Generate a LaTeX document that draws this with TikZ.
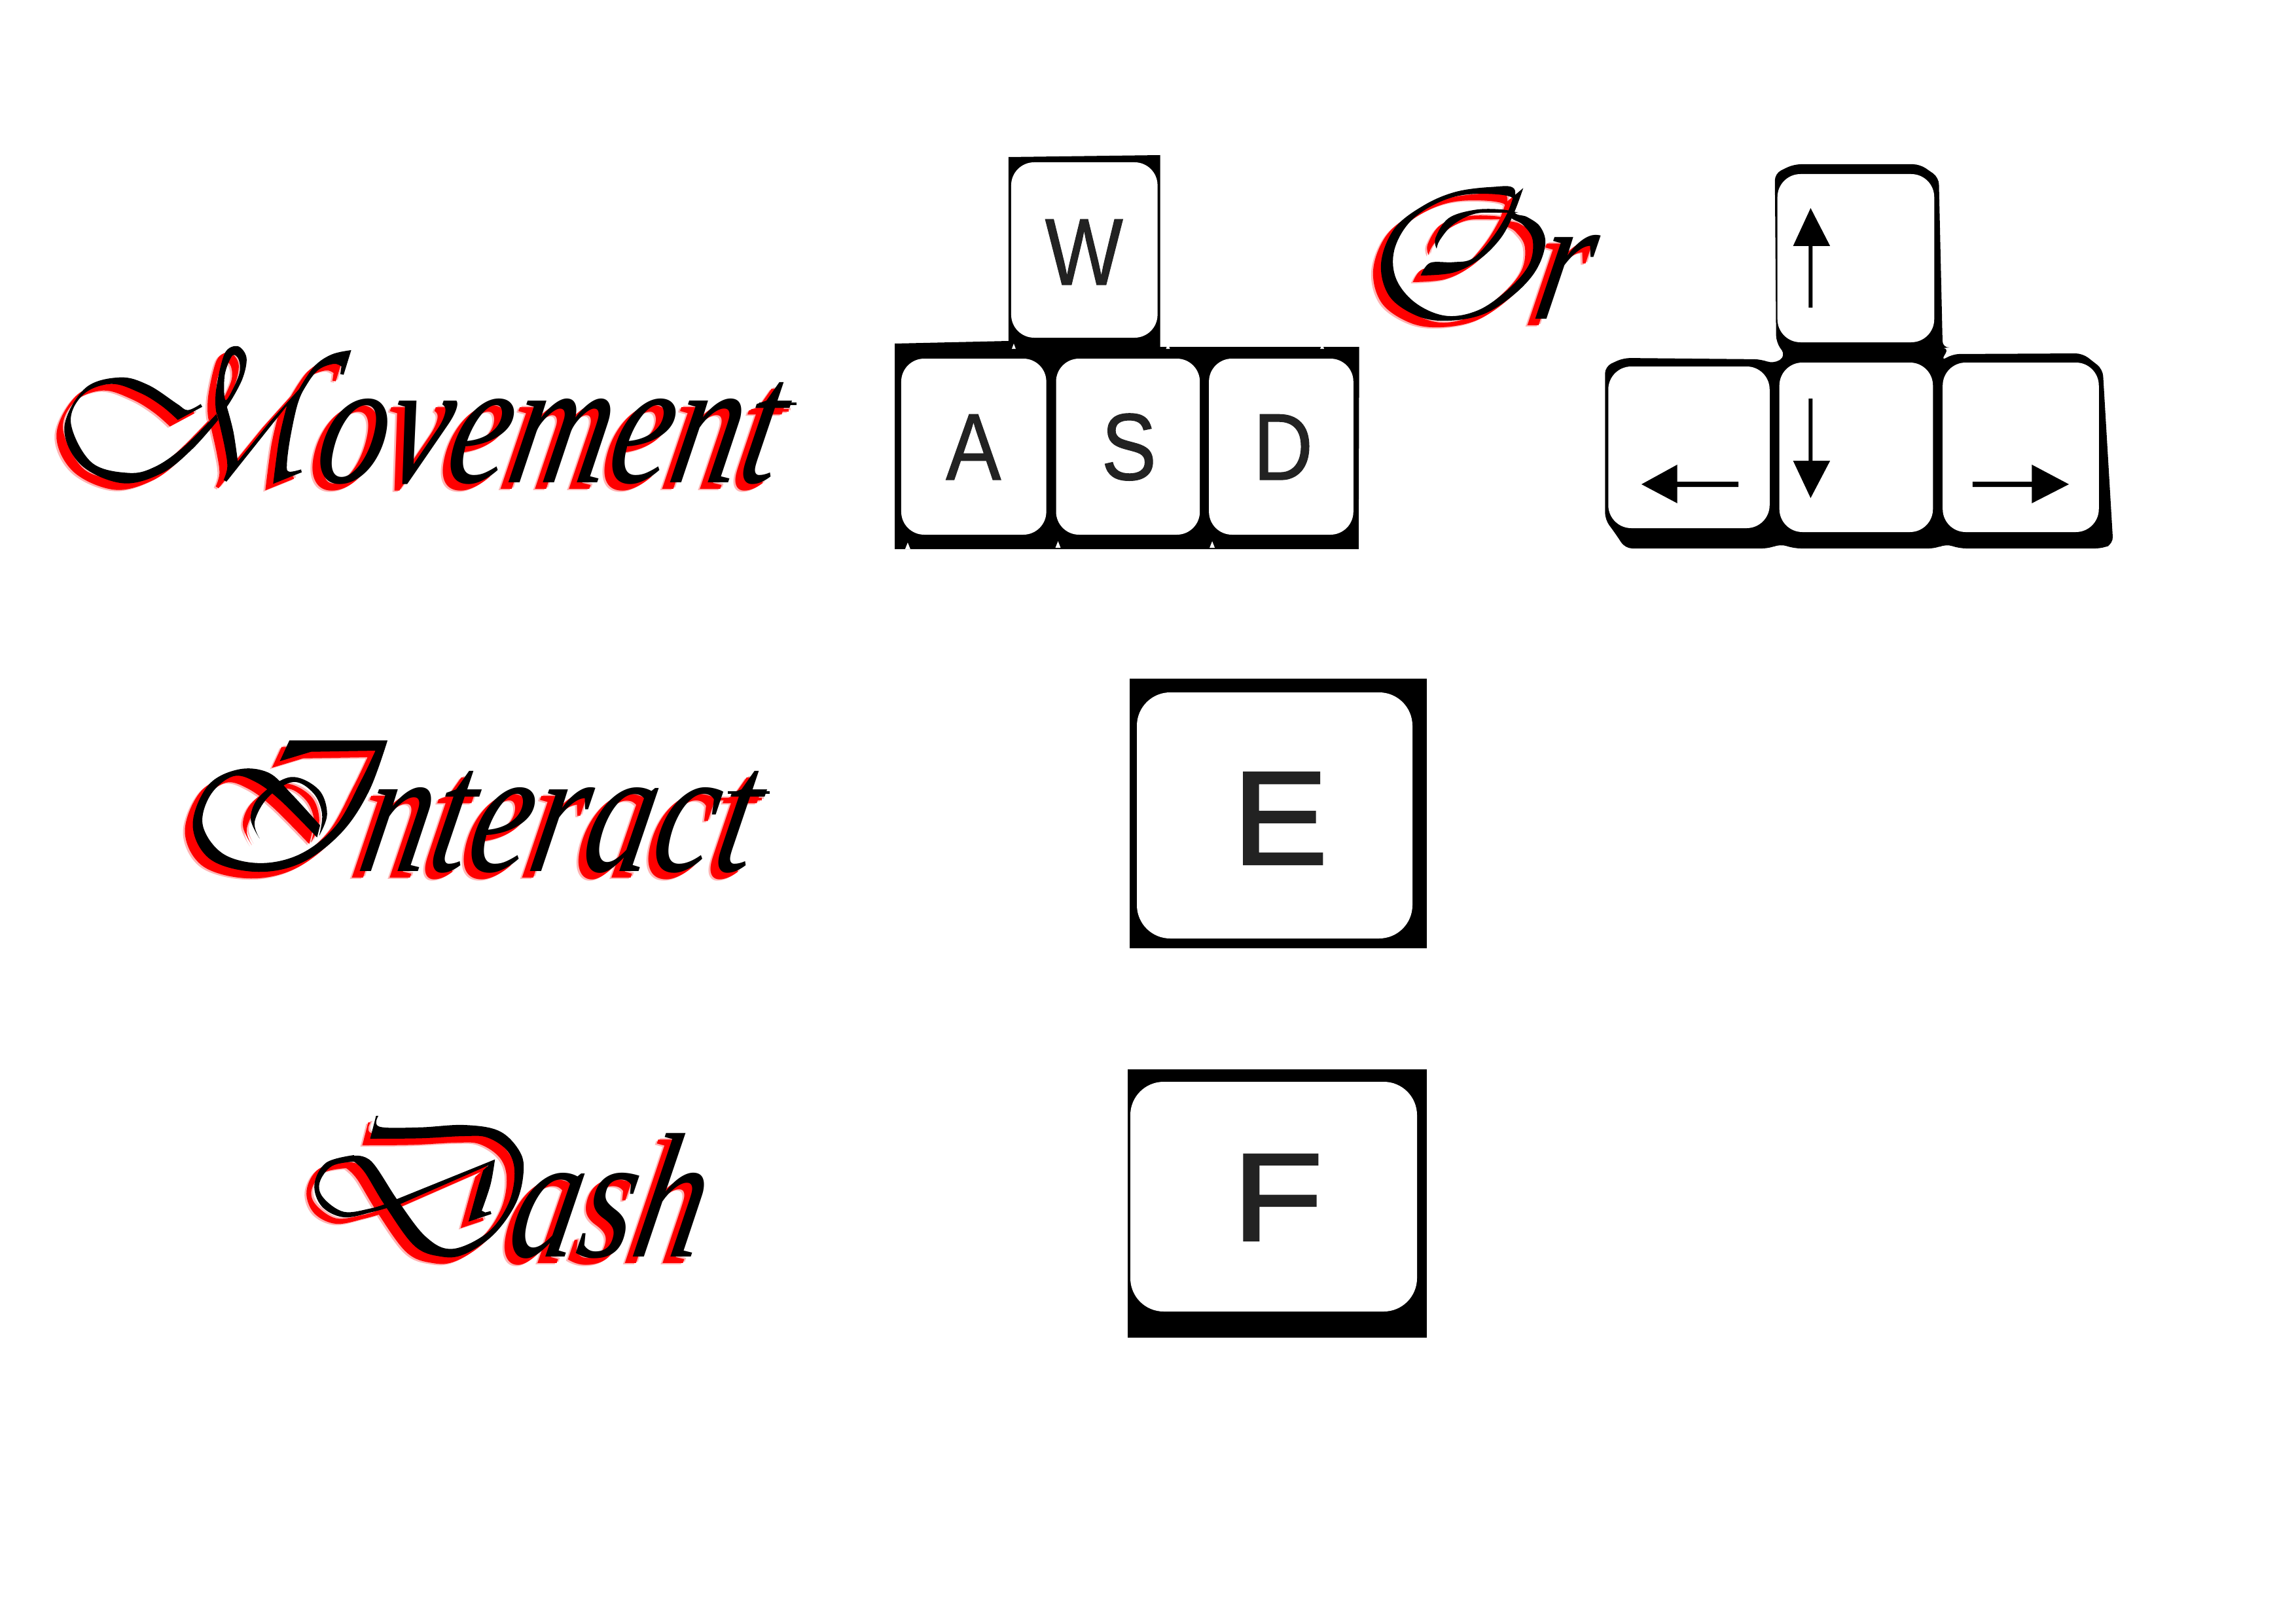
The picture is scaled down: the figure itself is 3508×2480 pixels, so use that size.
\documentclass[tikz,border=0pt]{standalone}
\usepackage{fontspec}
\setmainfont{Liberation Sans}
\newfontfamily\scriptfam[FakeStretch=.78,FakeSlant=.2]{Liberation Serif}
\newfontfamily\scriptcap[FakeStretch=.44,FakeSlant=.1]{Liberation Serif}
\newfontfamily\keyfam[FakeStretch=.87,FakeBold=.8]{Liberation Sans}
\newfontfamily\bigkeyfam[FakeStretch=1.08,FakeBold=2]{Liberation Sans}
\newfontfamily\bigkeyfamF[FakeStretch=1.2,FakeBold=2]{Liberation Sans}
\definecolor{pinkhalo}{HTML}{FFB4B4}
\definecolor{keyink}{HTML}{222222}
\newcommand\capsz{\fontsize{178.7}{180}\selectfont}
\newcommand\lowsz{\fontsize{154.8}{160}\selectfont}
\newcommand\layered[1]{%
  \foreach \sx/\sy/\ink/\sfx in {-15/12/pinkhalo/a,-9/8/pinkhalo/b,-12/10/red/e,0/0/black/f}{%
    \begin{scope}[shift={(\sx,\sy)}]#1\end{scope}}}
\tikzset{sm/.style={smooth,tension=.6}}
\newcommand\MovementWord{%
  \begin{scope}
    \clip (470,750) -- (490,580) -- (1300,580) -- (1300,750) -- cycle;
    \node[wordnode,text=\ink] (movement\sfx) at (360,737) {{\scriptcap\itshape\capsz M}{\scriptfam\itshape\lowsz ovement}};
  \end{scope}
  \fill[\ink] (1160,615) rectangle (1217,619);
  \begin{scope}[shift={(80,510)},x=.00667cm,y=-.00667cm]
    \fill[\ink] plot[sm] coordinates {(680,322)(620,350)(570,320)(440,235)(310,200)(150,250)(55,430)(130,600)(320,685)(500,640)(640,530)(760,395)} -- plot[sm] coordinates {(752,368)(600,520)(470,610)(350,638)(180,590)(85,410)(140,280)(270,230)(400,270)(500,330)(575,395)} -- (687,335) -- cycle;
    \fill[\ink,even odd rule] plot[smooth cycle,tension=.55] coordinates {(755,370)(750,260)(790,90)(850,57)(890,110)(870,210)(800,335)}
      plot[smooth cycle,tension=.55] coordinates {(795,305)(855,190)(855,120)(825,100)(790,190)};
    \fill[\ink] plot[sm] coordinates {(800,335)(830,450)(850,585)} -- (1000,400) -- plot[sm] coordinates {(1130,255)(1200,150)(1280,95)(1370,75)} -- (1335,188) -- (1320,185) -- plot[sm] coordinates {(1325,150)(1290,138)(1220,165)(1165,235)(1125,320)(1090,480)(1075,600)(1085,632)(1140,622)} -- (1143,635) -- (1012,688) -- plot[sm] coordinates {(1012,688)(1040,480)(1075,330)} -- (798,678) -- (785,670) -- plot[sm] coordinates {(785,670)(802,610)(790,520)(762,395)} -- (755,372) -- cycle;
  \end{scope}}
\newcommand\InteractWord{%
  \begin{scope}
    \clip (535,1345) -- (565,1215) -- (590,1130) -- (1300,1130) -- (1300,1345) -- cycle;
    \node[wordnode,text=\ink] (interact\sfx) at (496,1331) {{\scriptcap\itshape\capsz I}{\scriptfam\itshape\lowsz nteract}};
  \end{scope}
  \fill[\ink] (1112,1209) rectangle (1176,1213);
  \begin{scope}[shift={(60,500)},x=.01538cm,y=-.01154cm]
    \fill[\ink] (478,1150) -- (497,1095) -- plot[sm] coordinates {(692,1095)(655,1230)(600,1340)(520,1420)(430,1443)(340,1410)(305,1320)(335,1215)(395,1172)(455,1180)(500,1235)(558,1320)} -- plot[sm] coordinates {(552,1352)(480,1255)(430,1205)(385,1190)(340,1240)(325,1320)(365,1395)(440,1420)(520,1395)(590,1320)(640,1200)(668,1122)} -- (540,1125) -- cycle;
    \fill[\ink] plot[sm] coordinates {(438,1355)(420,1300)(440,1240)(500,1192)(555,1225)(572,1290)(556,1348)} -- plot[sm] coordinates {(556,1348)(562,1290)(545,1235)(505,1205)(455,1245)(428,1310)(438,1355)} -- cycle;
  \end{scope}}
\newcommand\DashWord{%
  \begin{scope}
    \clip (766,1935) -- (766,1880) -- (802,1800) -- (820,1690) -- (1200,1690) -- (1200,1935) -- cycle;
    \node[wordnode,text=\ink] (dash\sfx) at (671,1920) {{\scriptcap\itshape\capsz D}{\scriptfam\itshape\lowsz ash}};
  \end{scope}
  \begin{scope}[shift={(440,1660)},x=.00897cm,y=-.00667cm]
    \fill[\ink] (280,240) -- (300,135) -- plot[sm] coordinates {(308,135)(312,185)(450,188)(600,177)(720,205)(790,300)(802,400)(775,540)(700,680)(600,770)(520,780)(430,730)(330,545)(262,395)(225,345)} -- plot[sm] coordinates {(225,318)(285,345)(375,525)(470,690)(560,745)(680,670)(750,540)(772,400)(750,300)(680,235)(600,228)(450,238)(280,240)} -- cycle;
    \fill[\ink] plot[sm] coordinates {(225,315)(130,350)(90,450)(115,550)(190,600)(290,575)(385,538)} -- (700,352) -- (705,335) -- (365,520) -- plot[sm] coordinates {(330,540)(280,560)(190,575)(120,510)(108,440)(150,365)(225,345)} -- cycle;
    \fill[\ink] (705,335) -- plot[sm] coordinates {(705,335)(690,450)(660,570)} -- (672,578) -- (690,572) -- (693,585) -- (615,620) -- (650,450) -- (665,385) -- cycle;
  \end{scope}}
\newcommand\OrWord{%
  \begin{scope}
    \clip (2331,500) -- (2351,350) -- (2480,350) -- (2480,500) -- cycle;
    \node[wordnode,text=\ink] (or\sfx) at (2238,487) {{\scriptcap\itshape\capsz O}{\scriptfam\itshape\lowsz r}};
  \end{scope}
  \begin{scope}[shift={(2080,260)},x=.00667cm,y=-.00667cm]
    \fill[\ink,even odd rule] plot[smooth cycle,tension=.6] coordinates {(700,85)(600,77)(430,100)(280,165)(150,270)(90,430)(130,580)(260,670)(400,690)(560,660)(700,570)(800,460)(843,340)(820,260)(760,215)(700,190)}
      plot[smooth cycle,tension=.6] coordinates {(690,125)(500,110)(350,150)(220,240)(150,370)(160,500)(250,610)(390,668)(540,640)(680,540)(770,430)(785,320)(740,250)(680,210)};
    \fill[\ink] plot[sm] coordinates {(742,82)(700,195)(640,310)(540,410)(420,470)(272,483)} -- plot[sm] coordinates {(272,483)(315,425)(420,422)(510,405)(600,310)(665,205)(697,120)} -- cycle;
    \fill[\ink] plot[sm] coordinates {(345,360)(340,310)(400,220)(520,182)(640,180)(720,195)} -- plot[sm] coordinates {(720,195)(640,195)(520,200)(420,250)(360,320)(345,360)} -- cycle;
  \end{scope}}
\tikzset{
  wordnode/.style={anchor=base west,inner sep=0pt,outer sep=0pt},
  keybody/.style={fill=black},
  keycap/.style={fill=white,rounded corners=20pt},
  bigcap/.style={fill=white,rounded corners=29pt},
  keyletter/.style={anchor=base,inner sep=0pt,text=keyink,font=\keyfam\fontsize{82.5}{84}\selectfont},
  bigletter/.style={anchor=base,inner sep=0pt,text=keyink},
  nick/.style={fill=white}
}
\begin{document}
\begin{tikzpicture}[x=0.02cm,y=-0.02cm]
\useasboundingbox (0,0) rectangle (3508,2480);
\fill[white] (0,0) rectangle (3508,2480);
% lettering
\layered{\MovementWord}
\layered{\InteractWord}
\layered{\DashWord}
\layered{\OrWord}
% WASD
\begin{scope}[shift={(8.2,0)},xscale=.994]
\fill[keybody] (1367,525) -- (1542,521) -- (1542,240) -- (1775,237) -- (1775,530) -- (2081,530) -- (2080,839) -- (1367,839) -- cycle;
\fill[keycap] (1546,248) rectangle (1771,516);
\fill[keycap] (1377,548) rectangle (1600,817);
\fill[keycap] (1615,548) rectangle (1836,817);
\fill[keycap] (1850,548) rectangle (2072,817);
\foreach \nx/\ny in {1387/839,1618/837,1855/837}{\fill[nick] (\nx,\ny) -- ++(-4,0) -- ++(4,-10) -- ++(4,10) -- cycle;}
\foreach \nx/\ny in {1550/533,1787/533,2024/533}{\fill[nick] (\nx,\ny) -- ++(-3,0) -- ++(3,-8) -- ++(3,8) -- cycle;}
\node[keyletter] (w) at (1658,435) {W};
\node[keyletter] (a) at (1488,733) {A};
\node[keyletter] (s) at (1727,733) {S};
\node[keyletter] (d) at (1964,733) {D};
\end{scope}
% arrow keys
\begin{scope}[shift={(11,0)},xscale=.994]
\fill[keybody,rounded corners=6pt] (2717,265) -- (2746,251) -- (2940,251) -- (2969,271) -- (2975,532) -- (2985,531) -- (2972,552) -- (2990,541) -- (3190,540) -- (3221,564) -- (3237,831) -- (3221,838) -- (3000,838) -- (2980,831) -- (2965,838) -- (2746,838) -- (2725,831) -- (2709,838) -- (2487,838) -- (2471,814) -- (2456,794) -- (2456,560) -- (2484,547) -- (2696,549) -- (2715,556) -- (2734,544) -- (2719,523) -- cycle;
\fill[keycap] (2721,266) rectangle (2962,523);
\fill[keycap] (2461,560) rectangle (2709,807);
\fill[keycap] (2724,554) rectangle (2960,813);
\fill[keycap] (2975,554) rectangle (3215,813);
\fill[black] (2772,318) -- (2802,376) -- (2775,376) -- (2775,470) -- (2769,470) -- (2769,376) -- (2745,376) -- cycle;
\fill[black] (2772,761) -- (2802,704) -- (2775,704) -- (2775,609) -- (2769,609) -- (2769,704) -- (2745,704) -- cycle;
\fill[black] (2512,740) -- (2567,710) -- (2567,736) -- (2661,736) -- (2661,744) -- (2567,744) -- (2567,769) -- cycle;
\fill[black] (3169,740) -- (3112,710) -- (3112,736) -- (3021,736) -- (3021,744) -- (3112,744) -- (3112,769) -- cycle;
\end{scope}
% E
\fill[keybody] (1726,1037) rectangle (2180,1449);
\fill[bigcap] (1737,1058) rectangle (2158,1434);
\node[bigletter,font=\bigkeyfam\fontsize{115}{118}\selectfont] (e) at (1956,1320) {E};
% F
\fill[keybody] (1723,1634) rectangle (2180,2044);
\fill[bigcap] (1727,1653) rectangle (2165,2004);
\node[bigletter,font=\bigkeyfamF\fontsize{108}{110}\selectfont] (f) at (1952,1895) {F};
\end{tikzpicture}
\end{document}
